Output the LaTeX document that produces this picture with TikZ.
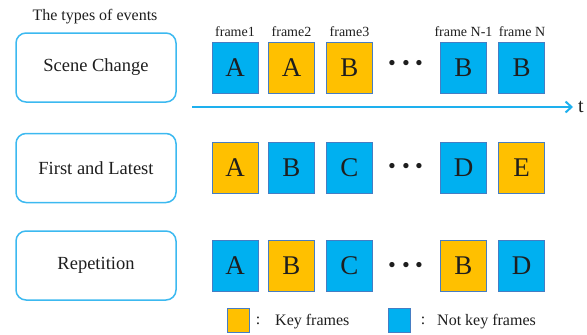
\documentclass[tikz,border=0pt]{standalone}
\usepackage{fontspec}
\setmainfont{Liberation Serif}
\usetikzlibrary{arrows.meta}
\definecolor{fblue}{RGB}{0,176,240}
\definecolor{fyellow}{RGB}{255,192,0}
\definecolor{fedge}{RGB}{70,125,195}
\definecolor{evedge}{RGB}{60,185,240}
\definecolor{txt}{RGB}{30,30,30}
\definecolor{arr}{RGB}{30,176,238}
\tikzset{
  evtbox/.style={draw=evedge, line width=1.5pt, rounded corners=10pt, minimum width=160pt, minimum height=69pt, inner sep=0pt, text=txt, font=\fontsize{18.5}{20}\selectfont},
  fbox/.style={draw=fedge, line width=0.8pt, minimum width=46pt, minimum height=51pt, inner sep=0pt, text=txt, font=\fontsize{27}{30}\selectfont},
  kf/.style={fbox, fill=fyellow},
  nkf/.style={fbox, fill=fblue},
  flabel/.style={text=txt, inner sep=0pt, font=\fontsize{14}{16}\selectfont},
  dots/.style={text=txt, inner sep=0pt, font=\fontsize{25}{28}\selectfont},
  legsq/.style={draw=fedge, line width=0.8pt, minimum width=22pt, minimum height=24pt, inner sep=0pt},
  legtxt/.style={text=txt, inner sep=0pt, font=\fontsize{16}{18}\selectfont}
}
\newcommand{\mydots}{\scalebox{2}{${\cdot}{\cdot}{\cdot}$}}
\begin{document}
\begin{tikzpicture}[x=1pt,y=-1pt]
\useasboundingbox (0,0) rectangle (587,335);
% title
\node[legtxt] (title) at (95,17) {The types of events};
% event boxes
\node[evtbox] (ev1) at (96,67.5) {Scene Change};
\node[evtbox] (ev2) at (96,168) {First and Latest};
\node[evtbox] (ev3) at (96,265.5) {Repetition};
% frame labels
\node[flabel] (l1) at (235,32) {frame1};
\node[flabel] (l2) at (291.5,32) {frame2};
\node[flabel] (l3) at (349.5,32) {frame3};
\node[flabel] (l4) at (463.5,32) {frame N-1};
\node[flabel] (l5) at (522,32) {frame N};
% row 1
\node[nkf] (a1) at (235,67.5) {A};
\node[kf]  (a2) at (291.5,67.5) {A};
\node[kf]  (a3) at (349.5,67.5) {B};
\node[dots] (ad) at (406,64) {\mydots};
\node[nkf] (a4) at (463.5,67.5) {B};
\node[nkf] (a5) at (521.5,67.5) {B};
% row 2
\node[kf]  (b1) at (235,168) {A};
\node[nkf] (b2) at (291.5,168) {B};
\node[nkf] (b3) at (349.5,168) {C};
\node[dots] (bd) at (406,167) {\mydots};
\node[nkf] (b4) at (463.5,168) {D};
\node[kf]  (b5) at (521.5,168) {E};
% row 3
\node[nkf] (c1) at (235,265.5) {A};
\node[kf]  (c2) at (291.5,265.5) {B};
\node[nkf] (c3) at (349.5,265.5) {C};
\node[dots] (cd) at (406,266) {\mydots};
\node[kf]  (c4) at (463.5,265.5) {B};
\node[nkf] (c5) at (521.5,265.5) {D};
% time axis
\coordinate (tstart) at (192,107);
\coordinate (tend) at (573,107);
\draw[arr, line width=2pt, -{Straight Barb[length=6pt,width=11pt,line width=2pt]}] (tstart) -- (tend);
\node[text=txt, inner sep=0pt, font=\fontsize{20}{22}\selectfont] (t) at (581,107) {t};
% legend
\node[legsq, fill=fyellow] (lk) at (238,320) {};
\node[legtxt] (lkc) at (258,321) {:};
\node[legtxt, anchor=west] (lkt) at (275,322) {Key frames};
\node[legsq, fill=fblue] (ln) at (399.5,320) {};
\node[legtxt] (lnc) at (423,321) {:};
\node[legtxt, anchor=west] (lnt) at (437,322) {Not key frames};
\end{tikzpicture}
\end{document}
